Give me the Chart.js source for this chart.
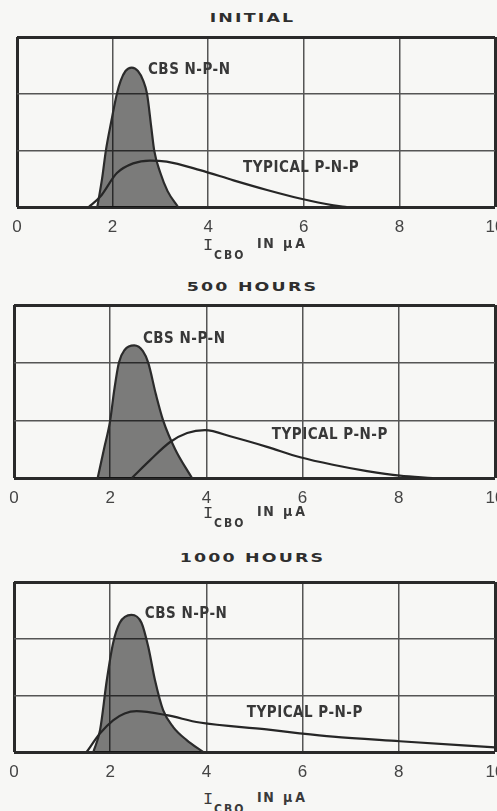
<!DOCTYPE html>
<html><head><meta charset="utf-8">
<script src="https://cdn.jsdelivr.net/npm/chart.js@4.4.1/dist/chart.umd.min.js"></script>
<style>
html,body{margin:0;padding:0;background:#f7f7f5;overflow:hidden;width:497px;height:811px;}
.title{position:absolute;left:4px;width:497px;text-align:center;font:bold 12px "DejaVu Sans",sans-serif;line-height:12px;letter-spacing:1.5px;color:#2e2e2e;transform:scaleX(1.45);transform-origin:50% 50%;white-space:nowrap;}
canvas{position:absolute;left:0;}
.ax{position:absolute;left:0;width:497px;height:26px;color:#3a3a3a;}
.ax span{position:absolute;white-space:nowrap;}
.ax .i{font:17px "Liberation Mono","DejaVu Sans Mono",monospace;line-height:17px;}
.ax .s{font:bold 12px "Liberation Sans Narrow","DejaVu Sans Condensed",sans-serif;line-height:12px;letter-spacing:2px;}
.ax .w{font:bold 14px "Liberation Sans Narrow","DejaVu Sans Condensed",sans-serif;line-height:14px;letter-spacing:1.5px;}
</style>
</head><body>
<div id="t0" class="title"></div>
<div id="t1" class="title"></div>
<div id="t2" class="title"></div>
<canvas id="c0"></canvas>
<canvas id="c1"></canvas>
<canvas id="c2"></canvas>
<div id="a0" class="ax"></div>
<div id="a1" class="ax"></div>
<div id="a2" class="ax"></div>
<script>
// ---- data ----
const panelTitles = ['INITIAL', '500 HOURS', '1000 HOURS'];
const curveNames = ['CBS N-P-N', 'TYPICAL P-N-P'];
const xTickLabels = ['0', '2', '4', '6', '8', '10'];
const axisWords = ['I', 'CBO', 'IN', 'μA'];

// INITIAL
const initialNpnX = [1.68, 1.78, 1.86, 1.97, 2.09, 2.17, 2.27, 2.4, 2.53, 2.64, 2.72, 2.81, 2.87, 3.0, 3.15, 3.37];
const initialNpnY = [0, 0.5, 1.0, 1.5, 2.0, 2.23, 2.4, 2.46, 2.4, 2.23, 2.0, 1.4, 1.0, 0.6, 0.28, 0];
const initialPnpX = [1.5, 1.74, 2.09, 2.43, 2.78, 3.13, 3.83, 4.53, 5.23, 5.92, 6.62, 6.9];
const initialPnpY = [0, 0.18, 0.6, 0.77, 0.82, 0.8, 0.65, 0.47, 0.3, 0.15, 0.03, 0];

// 500 HOURS
const h500NpnX = [1.74, 1.87, 2.0, 2.08, 2.18, 2.3, 2.5, 2.68, 2.79, 2.95, 3.1, 3.35, 3.7];
const h500NpnY = [0, 0.5, 1.0, 1.5, 2.0, 2.22, 2.3, 2.2, 2.0, 1.45, 1.0, 0.5, 0];
const h500PnpX = [2.45, 2.83, 3.24, 3.6, 3.97, 4.55, 5.26, 5.95, 6.63, 7.34, 8.02, 8.7];
const h500PnpY = [0, 0.31, 0.62, 0.78, 0.83, 0.71, 0.54, 0.36, 0.23, 0.12, 0.04, 0];

// 1000 HOURS
const h1000NpnX = [1.65, 1.79, 1.93, 2.06, 2.2, 2.44, 2.65, 2.79, 2.93, 3.1, 3.31, 3.59, 3.93];
const h1000NpnY = [0, 0.39, 1.27, 1.92, 2.28, 2.42, 2.28, 1.86, 1.27, 0.74, 0.44, 0.21, 0];
const h1000PnpX = [1.51, 1.79, 2.06, 2.3, 2.55, 3.17, 3.86, 5.25, 5.94, 6.63, 8.02, 10];
const h1000PnpY = [0, 0.33, 0.56, 0.68, 0.72, 0.65, 0.52, 0.4, 0.33, 0.27, 0.19, 0.08];

// ---- layout ----
const FONT_NARROW = '"Liberation Sans Narrow","DejaVu Sans Condensed",sans-serif';
const panels = [
  {top: 27, height: 210, padLeft: 17, titleTop: 12, axTop: 236,
   npn: [initialNpnX, initialNpnY], pnp: [initialPnpX, initialPnpY],
   labelAt: [[2.74, 2.42], [4.73, 0.69]]},
  {top: 295, height: 213, padLeft: 14, titleTop: 281, axTop: 504,
   npn: [h500NpnX, h500NpnY], pnp: [h500PnpX, h500PnpY],
   labelAt: [[2.68, 2.41], [5.36, 0.75]]},
  {top: 572, height: 210, padLeft: 14, titleTop: 552, axTop: 790,
   npn: [h1000NpnX, h1000NpnY], pnp: [h1000PnpX, h1000PnpY],
   labelAt: [[2.72, 2.43], [4.84, 0.69]]}
];

const labelPlugin = {
  id: 'curveLabels',
  afterDatasetsDraw(chart, args, opts) {
    const {ctx, scales: {x, y}} = chart;
    ctx.save();
    ctx.font = 'bold 15px ' + FONT_NARROW;
    try { ctx.letterSpacing = '0.5px'; } catch (e) {}
    ctx.fillStyle = '#383838';
    ctx.textBaseline = 'middle';
    ctx.textAlign = 'left';
    (opts.items || []).forEach(it => ctx.fillText(it.text, x.getPixelForValue(it.x), y.getPixelForValue(it.y)));
    ctx.restore();
  }
};

const pts = (xs, ys) => xs.map((x, i) => ({x: x, y: ys[i]}));

panels.forEach((p, k) => {
  const t = document.getElementById('t' + k);
  t.textContent = panelTitles[k];
  t.style.top = p.titleTop + 'px';

  const a = document.getElementById('a' + k);
  a.style.top = p.axTop + 'px';
  a.innerHTML = '<span class="i" style="left:203px;top:1px">' + axisWords[0] + '</span>' +
    '<span class="s" style="left:214px;top:13px">' + axisWords[1] + '</span>' +
    '<span class="w" style="left:257px;top:0px">' + axisWords[2] + '</span>' +
    '<span class="w" style="left:283px;top:0px;letter-spacing:3px">' + axisWords[3] + '</span>';

  const c = document.getElementById('c' + k);
  c.width = 497; c.height = p.height;
  c.style.top = p.top + 'px';

  const edgeX = v => v === 0 || v === 10;
  const edgeY = v => v === 0 || v === 3;

  new Chart(c, {
    type: 'line',
    data: {
      datasets: [
        {data: pts(p.pnp[0], p.pnp[1]), borderColor: '#262626', borderWidth: 2.2, fill: false,
         pointRadius: 0, cubicInterpolationMode: 'monotone'},
        {data: pts(p.npn[0], p.npn[1]), borderColor: '#2b2b2b', borderWidth: 2.2,
         backgroundColor: 'rgba(0,0,0,0.5)', fill: 'origin', pointRadius: 0, cubicInterpolationMode: 'monotone'}
      ]
    },
    options: {
      responsive: false, animation: false, events: [],
      layout: {padding: {left: p.padLeft, right: 2, top: 10, bottom: 0}},
      plugins: {
        legend: {display: false}, tooltip: {enabled: false},
        curveLabels: {items: curveNames.map((n, i) => ({text: n, x: p.labelAt[i][0], y: p.labelAt[i][1]}))}
      },
      scales: {
        x: {
          type: 'linear', min: 0, max: 10,
          ticks: {stepSize: 2, padding: 10, color: '#444', maxRotation: 0, autoSkip: false,
                  font: {family: '"Liberation Sans", Arial, sans-serif', size: 17},
                  callback: (v, i) => xTickLabels[i]},
          grid: {drawTicks: false,
                 color: ctx => edgeX(ctx.tick && ctx.tick.value) ? '#2a2a2a' : '#555',
                 lineWidth: ctx => edgeX(ctx.tick && ctx.tick.value) ? 3 : 1.5},
          border: {display: false},
          afterFit: s => { s.height = 30; s.paddingLeft = 0; s.paddingRight = 0; }
        },
        y: {
          min: 0, max: 3,
          ticks: {display: false, stepSize: 1},
          grid: {drawTicks: false,
                 color: ctx => edgeY(ctx.tick && ctx.tick.value) ? '#2a2a2a' : '#555',
                 lineWidth: ctx => edgeY(ctx.tick && ctx.tick.value) ? 3 : 1.5},
          border: {display: false},
          afterFit: s => { s.width = 0; }
        }
      }
    },
    plugins: [labelPlugin]
  });
});
</script>
</body></html>
